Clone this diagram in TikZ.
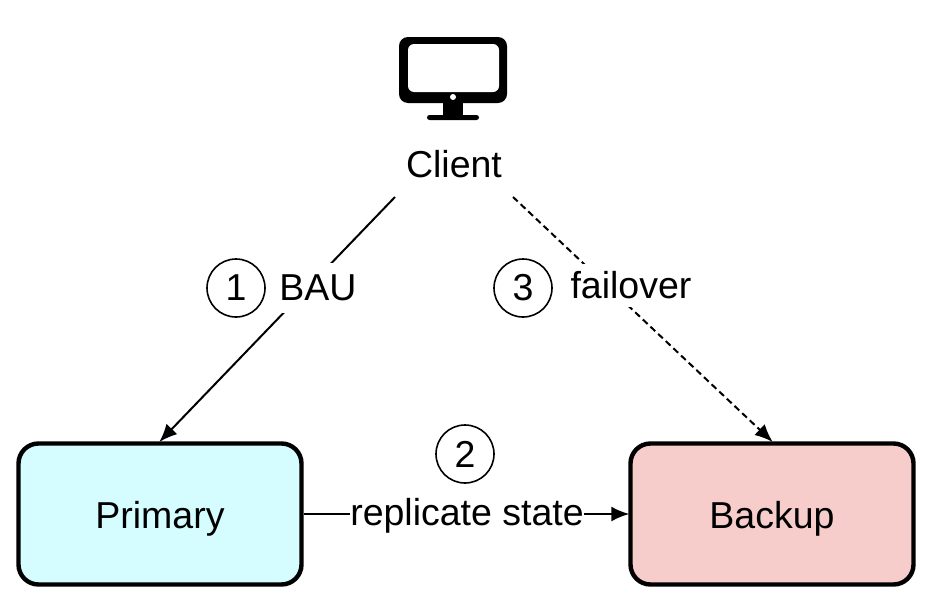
\documentclass[tikz,border=0pt]{standalone}
\usepackage{fontspec}
\setmainfont{Liberation Sans}
\usetikzlibrary{arrows.meta}
\definecolor{primfill}{HTML}{D5FDFF}
\definecolor{backfill}{HTML}{F6CDCB}
\tikzset{
 box/.style={draw=black,line width=4.4pt,rounded corners=20pt,minimum width=283pt,minimum height=141pt,inner sep=0pt,font=\fontsize{37.5}{42}\selectfont},
 lab/.style={inner xsep=0pt,inner ysep=0pt,minimum height=50pt,fill=white,font=\fontsize{37.5}{42}\selectfont},
 num/.style={draw=black,circle,line width=1.6pt,minimum size=58pt,inner sep=0pt,font=\fontsize{37.5}{42}\selectfont},
 conn/.style={line width=2pt,-{Latex[length=18pt,width=15pt]},shorten >=-1pt},
 dashline/.style={dash pattern=on 6.5pt off 4pt},
}
\begin{document}
\begin{tikzpicture}[x=1pt,y=-1pt]
\useasboundingbox (0,0) rectangle (942,613);
\fill[white] (0,0) rectangle (942,613);
\node[box,fill=primfill] (p) at (160,514) {\raisebox{-14pt}[0pt][0pt]{Primary}};
\node[box,fill=backfill] (b) at (772,514) {\raisebox{-14pt}[0pt][0pt]{Backup}};
\node[font=\fontsize{37.5}{42}\selectfont,inner sep=0pt] (c) at (454,164) {Client};
\coordinate (cl) at (395,197);
\coordinate (cr) at (513,197);
\draw[conn] (cl) -- (p.north);
\draw[conn,dashline] (cr) -- (b.north);
\draw[conn] (p.east) -- (b.west);
\node[lab] (bau) at (318,288) {BAU};
\node[lab,minimum height=43pt] (fo) at (631,285) {failover};
\node[lab,minimum height=40pt] (rs) at (467,516) {replicate state};
\node[num] (n1) at (236,288) {1};
\node[num] (n3) at (523,288) {3};
\node[num] (n2) at (465,454) {2};
% monitor
\fill[rounded corners=9pt] (399,37) rectangle (507,103);
\fill[white,rounded corners=6pt] (408,44) rectangle (499,92);
\fill (443,102) rectangle (463,116);
\fill[rounded corners=2.5pt] (427,115) rectangle (479,120);
\fill[white] (453,97) circle (3pt);
\end{tikzpicture}
\end{document}
